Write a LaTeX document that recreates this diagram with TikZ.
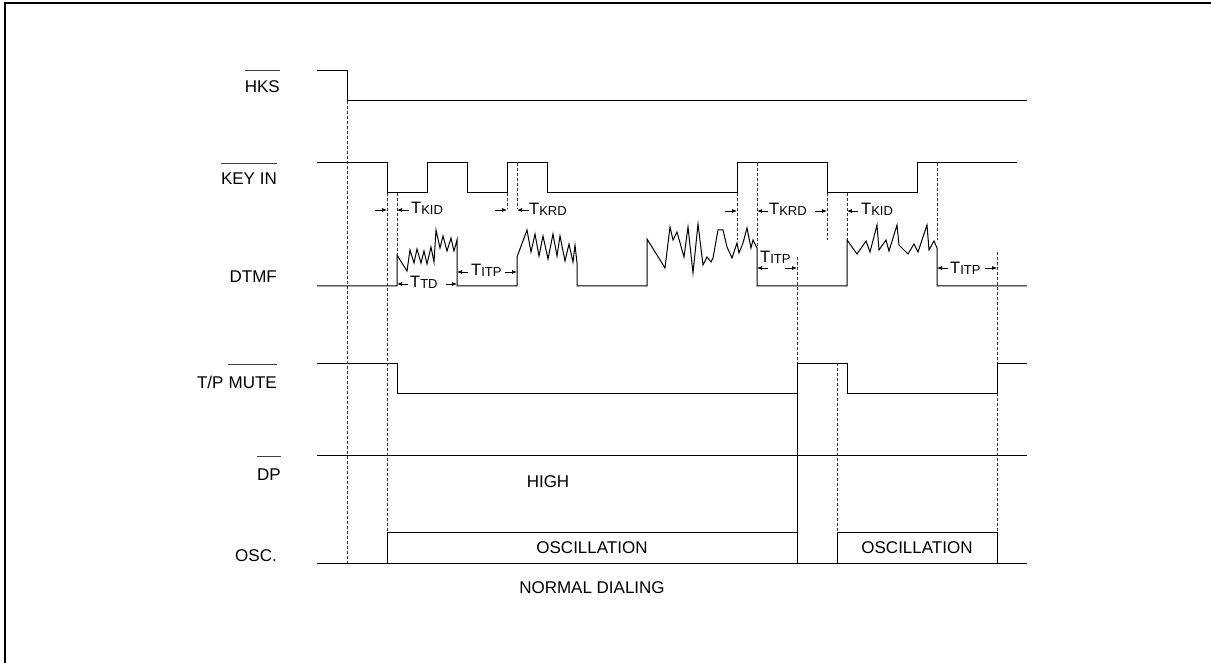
\documentclass[tikz,border=0pt]{standalone}
\usepackage{fontspec}
\setmainfont{Liberation Sans}
\usetikzlibrary{arrows.meta}
\newcommand{\tlab}[1]{{\fontsize{16.5}{18}\selectfont T}\raisebox{-1pt}{\fontsize{13}{14}\selectfont #1}}
\tikzset{
  sig/.style={line width=1pt},
  vdash/.style={line width=0.7pt, dash pattern=on 3pt off 2pt, black!80},
  tm/.style={-{Latex[length=5pt,width=4pt]}, line width=0.7pt},
  lbl/.style={inner sep=0pt, anchor=base east},
  txt/.style={inner sep=0pt, anchor=base},
  ovl/.style={line width=1pt, black!75}
}
\begin{document}
\begin{tikzpicture}[x=1pt, y=-1pt, every node/.style={font=\fontsize{17}{20}\selectfont}]
\useasboundingbox (0,0) rectangle (1211,663);
\draw[line width=2.5pt] (5,3) rectangle (1225,675);
% signal names
\node[lbl] (hks) at (280,93) {HKS};
\node[lbl] (key) at (277,185) {KEY IN};
\node[lbl] (dtmf) at (277,283) {DTMF};
\node[lbl] (mute) at (277,388) {MUTE};
\node[lbl] (tp) at ([xshift=-4.7pt]mute.base west) {T/P};
\node[lbl] (dp) at (281,480) {DP};
\node[lbl] (osc) at (277,561) {OSC.};
\draw[ovl] (hks.west |- 0,71) -- (hks.east |- 0,71);
\draw[ovl] (key.west |- 0,164) -- (key.east |- 0,164);
\draw[ovl] (mute.west |- 0,364) -- (mute.east |- 0,364);
\draw[ovl] (dp.west |- 0,456) -- (dp.east |- 0,456);
% waveforms
\draw[sig] (317,71) -- (347,71) -- (347,101) -- (1027,101);
\draw[sig] (317,163) -- (387,163) -- (387,193) -- (427,193) -- (427,163) -- (467,163) -- (467,193)
  -- (507,193) -- (507,163) -- (547,163) -- (547,193) -- (737,193) -- (737,163) -- (827,163)
  -- (827,193) -- (917,193) -- (917,163) -- (1017,163);
\draw[sig] (317,286) -- (397,286) -- (397,255) -- (407,271) -- (410,250) -- (414,263) -- (417,249)
  -- (421,263) -- (424,251) -- (427,264) -- (431,247) -- (434,262) -- (436,230) -- (440,248)
  -- (443,236) -- (447,251) -- (451,238) -- (454,251) -- (457,240) -- (457,286) -- (517,286)
  -- (517,257) -- (527,230) -- (531,252) -- (535,234) -- (539,256) -- (543,236) -- (548,259)
  -- (553,234) -- (557,256) -- (560,236) -- (565,261) -- (569,244) -- (573,262) -- (575,245)
  -- (577,263) -- (577,286) -- (647,286) -- (647,239) -- (665,268) -- (670,227) -- (673,240)
  -- (677,232) -- (684,257) -- (688,227) -- (693,273) -- (698,224) -- (703,265) -- (707,257)
  -- (711,262) -- (713,258) -- (718,230) -- (723,230) -- (727,247) -- (732,258) -- (737,243)
  -- (739,253) -- (743,243) -- (747,228) -- (751,248) -- (753,240) -- (757,248) -- (757,286)
  -- (847,286) -- (847,240) -- (857,254) -- (866,241) -- (870,252) -- (877,225) -- (879,250)
  -- (886,240) -- (889,251) -- (897,225) -- (899,245) -- (908,254) -- (914,244) -- (918,252)
  -- (927,225) -- (929,250) -- (934,241) -- (937,248) -- (937,286) -- (1027,286);
\draw[sig] (317,363) -- (397,363) -- (397,393) -- (797,393) -- (797,363) -- (847,363) -- (847,393)
  -- (997,393) -- (997,363) -- (1027,363);
\draw[sig] (797,393) -- (797,532);
\draw[sig] (317,455) -- (1027,455);
\draw[sig] (317,563) -- (1027,563);
\draw[sig] (387,563) -- (387,532) -- (797,532) -- (797,563);
\draw[sig] (837,563) -- (837,532) -- (997,532) -- (997,563);
% timing marks
\foreach \x/\ya/\yb in {347/101/563, 387/193/532, 397/193/255, 507/193/209, 517/163/209,
  737/193/240, 757/163/248, 797/257/363, 827/193/240, 837/363/532, 847/193/240,
  937/163/240, 997/252/363, 997/393/532}
  \draw[vdash] (\x,\ya) -- (\x,\yb);
\draw[tm] (375,210) -- (387,210);
\draw[tm] (409,210) -- (397,210);
\node[txt, anchor=base west] (tkid1) at (411,214) {\tlab{KID}};
\draw[tm] (495,210) -- (507,210);
\draw[tm] (529,210) -- (517,210);
\node[txt, anchor=base west] (tkrd1) at (529,215) {\tlab{KRD}};
\draw[tm] (408,284) -- (397,284);
\draw[tm] (446,284) -- (457,284);
\node[txt, anchor=base west] (ttd) at (410,288) {\tlab{TD}};
\draw[tm] (468,272) -- (457,272);
\draw[tm] (505,272) -- (517,272);
\node[txt, anchor=base west] (titp1) at (471,276) {\tlab{ITP}};
\draw[tm] (725,211) -- (737,211);
\draw[tm] (768,211) -- (757,211);
\node[txt, anchor=base west] (tkrd2) at (769,215) {\tlab{KRD}};
\draw[tm] (815,211) -- (827,211);
\draw[tm] (858,211) -- (847,211);
\node[txt, anchor=base west] (tkid2) at (861,215) {\tlab{KID}};
\draw[tm] (768,268) -- (757,268);
\draw[tm] (785,268) -- (797,268);
\node[txt, anchor=base west] (titp2) at (760,263) {\tlab{ITP}};
\draw[tm] (948,268) -- (937,268);
\draw[tm] (985,268) -- (997,268);
\node[txt, anchor=base west] (titp3) at (950,274) {\tlab{ITP}};
% texts
\node[txt] (high) at (548,487) {HIGH};
\node[txt] (osc1) at (592,553) {OSCILLATION};
\node[txt] (osc2) at (917,553) {OSCILLATION};
\node[txt] (normal) at (592,593) {NORMAL DIALING};
\end{tikzpicture}
\end{document}
